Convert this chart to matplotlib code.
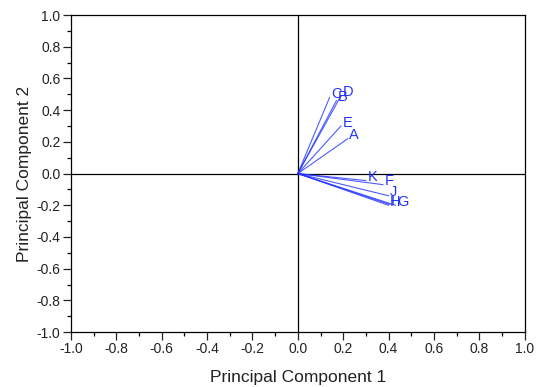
import matplotlib.pyplot as plt
from matplotlib.ticker import MultipleLocator

plt.rcParams['font.family'] = ['Liberation Sans', 'DejaVu Sans']

# loadings
labels = ['A', 'B', 'C', 'D', 'E', 'F', 'G', 'H', 'I', 'J', 'K']
pc1 = [0.22, 0.17, 0.14, 0.19, 0.19, 0.375, 0.43, 0.40, 0.405, 0.40, 0.30]
pc2 = [0.22, 0.46, 0.48, 0.49, 0.30, -0.07, -0.20, -0.20, -0.195, -0.14, -0.044]

fig = plt.figure(figsize=(5.41, 3.87), dpi=100)
ax = fig.add_axes([0.131, 0.142, 0.839, 0.819])

ax.axhline(0, color='black', lw=0.9, zorder=1)
ax.axvline(0, color='black', lw=0.9, zorder=1)

for lab, x, y in zip(labels, pc1, pc2):
    ax.plot([0, x], [0, y], color='#2233ff', lw=0.8, alpha=0.8, zorder=2)
    ax.annotate(lab, (x, y), xytext=(1, 2.5), textcoords='offset points',
                color='#2233ff', fontsize=10.5, ha='left', va='center',
                zorder=3)

ax.set_xlim(-1, 1)
ax.set_ylim(-1, 1)
ax.xaxis.set_major_locator(MultipleLocator(0.2))
ax.yaxis.set_major_locator(MultipleLocator(0.2))
ax.xaxis.set_minor_locator(MultipleLocator(0.1))
ax.yaxis.set_minor_locator(MultipleLocator(0.1))
ax.xaxis.set_major_formatter(lambda v, p: f'{v:.1f}')
ax.yaxis.set_major_formatter(lambda v, p: f'{v:.1f}')
ax.tick_params(which='major', direction='out', length=5.5, width=0.9,
               labelsize=10, pad=2, colors='#222222')
ax.tick_params(which='minor', direction='out', length=3, width=0.9)
for s in ax.spines.values():
    s.set_linewidth(0.9)

ax.set_xlabel('Principal Component 1', fontsize=12.5, color='#222222',
              labelpad=10)
ax.set_ylabel('Principal Component 2', fontsize=12.5, color='#222222',
              labelpad=3)

fig.savefig('out.png', dpi=100)
